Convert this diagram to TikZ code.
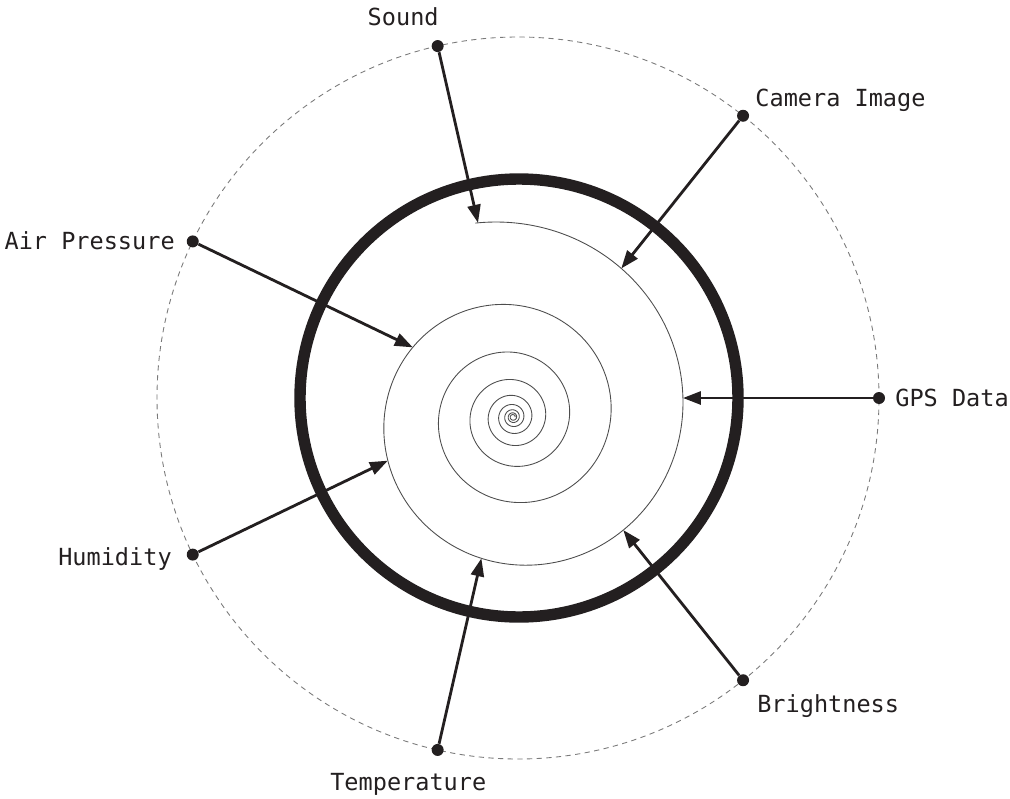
\documentclass[tikz,border=0pt]{standalone}
\usepackage{fontspec}
\setmonofont{DejaVu Sans Mono}
\usetikzlibrary{arrows.meta, calc, intersections}
\definecolor{inkDark}{HTML}{231F20}
\definecolor{ringGray}{HTML}{7A7A7A}
\definecolor{coilGray}{HTML}{4D4D4D}

\begin{document}
\begin{tikzpicture}[
  x=0.02cm, y=0.02cm,
  font=\ttfamily\fontsize{13.4pt}{16pt}\selectfont,
  dot/.style   ={circle, fill=inkDark, inner sep=0pt, minimum size=0.24cm},
  lbl/.style   ={text=inkDark, inner sep=0pt},
  feed/.style  ={-{Triangle[length=0.36cm, width=0.26cm]}, draw=inkDark, line width=1.6pt},
  outer/.style ={draw=ringGray, line width=0.5pt, dash pattern=on 3pt off 2.5pt},
  ring/.style  ={draw=inkDark, line width=6.5pt},
  coil/.style  ={draw=coilGray, line width=0.5pt},
]
\useasboundingbox (-518,-400) rectangle (492,398);

\coordinate (O) at (0,0);

% ----- Outer dashed orbit and thick ring -----
\draw[outer] (O) circle[radius=361];
\draw[ring] (1,0) circle[radius=219];

% ----- Spiral -----
\draw[coil, name path=spiral]
  plot[variable=\t, domain=101:-2880, samples=2000]
  ({-5+171*exp(0.00153*(\t-6.4))*cos(\t)}, {-19+171*exp(0.00153*(\t-6.4))*sin(\t)});

% ----- Sensor dots -----
\node[dot] (gps) at (0:361)      {};
\node[dot] (cam) at (51.43:361)  {};
\node[dot] (snd) at (102.86:361) {};
\node[dot] (air) at (154.29:361) {};
\node[dot] (hum) at (205.71:361) {};
\node[dot] (tmp) at (257.14:361) {};
\node[dot] (brt) at (308.57:361) {};

% ----- Labels -----
\node[lbl, anchor=base east] (sndlbl) at ($(snd)+(1.3,20.6)$)    {Sound};
\node[lbl, anchor=base west] (camlbl) at ($(cam)+(12,9.3)$)      {Camera Image};
\node[lbl, anchor=base east] (airlbl) at ($(air)+(-17.7,-8.1)$)  {Air Pressure};
\node[lbl, anchor=base west] (gpslbl) at ($(gps)+(16,-8.5)$)     {GPS Data};
\node[lbl, anchor=base east] (humlbl) at ($(hum)+(-20.7,-10.9)$) {Humidity};
\node[lbl, anchor=base west] (brtlbl) at ($(brt)+(13.9,-32.3)$)  {Brightness};
\node[lbl, anchor=base west] (tmplbl) at ($(tmp)+(-107.7,-40.6)$) {Temperature};

% ----- Arrows onto the spiral -----
\foreach \src in {snd, cam, gps, brt, tmp, hum, air} {
  \path[name path=ray] (\src.center) -- (O);
  \draw[feed, name intersections={of=ray and spiral, sort by=ray, name=hit}]
    (\src) -- (hit-1);
}

\end{tikzpicture}
\end{document}
